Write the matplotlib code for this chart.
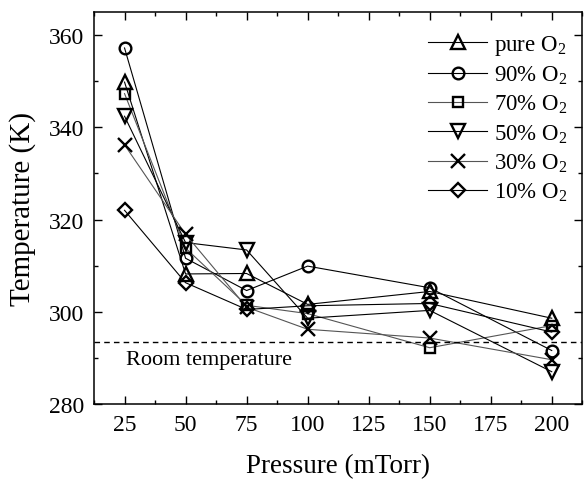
import matplotlib
matplotlib.use('Agg')
import matplotlib.pyplot as plt
from matplotlib.ticker import MultipleLocator

plt.rcParams['font.family'] = 'Liberation Serif'
plt.rcParams['mathtext.fontset'] = 'custom'
plt.rcParams['mathtext.rm'] = 'Liberation Serif'
plt.rcParams['mathtext.it'] = 'Liberation Serif:italic'

pressure = [25, 50, 75, 100, 150, 200]

pure_o2 = [349.8, 308.2, 308.3, 301.6, 304.4, 298.6]
o2_90 = [357.2, 311.6, 304.6, 309.9, 305.2, 291.6]
o2_70 = [347.3, 313.8, 301.4, 299.6, 292.2, 297.0]
o2_50 = [342.4, 315.0, 313.4, 298.6, 300.3, 287.0]
o2_30 = [336.2, 316.8, 301.0, 296.2, 294.3, 289.6]
o2_10 = [322.0, 306.3, 300.5, 301.3, 301.8, 295.6]

labels = ['pure O$_2$', '90% O$_2$', '70% O$_2$', '50% O$_2$', '30% O$_2$', '10% O$_2$']
room_temp = 293.5

fig = plt.figure(figsize=(5.84, 4.81), dpi=100)
ax = fig.add_axes([0.161, 0.158, 0.836, 0.815])

styles = [
    (pure_o2, '^', 10.5, 'black'),
    (o2_90, 'o', 8.4, 'black'),
    (o2_70, 's', 7.2, '#555555'),
    (o2_50, 'v', 9.8, 'black'),
    (o2_30, 'x', 10.5, '#555555'),
    (o2_10, 'D', 6.8, 'black'),
]

for (temps, mk, ms, lc), lab in zip(styles, labels):
    ax.plot(pressure, temps, color=lc, lw=0.8, marker=mk, ms=ms,
            mfc='none', mec='black', mew=1.7, label=lab)

ax.axhline(room_temp, color='black', ls=(0, (4, 3)), lw=1.0)
ax.text(25.7, 289.6, 'Room temperature', fontsize=16, va='center', ha='left')

ax.set_xlim(12.5, 212.5)
ax.set_ylim(280, 365)
ax.xaxis.set_major_locator(MultipleLocator(25))
ax.xaxis.set_minor_locator(MultipleLocator(12.5))
ax.yaxis.set_major_locator(MultipleLocator(20))
ax.yaxis.set_minor_locator(MultipleLocator(10))
ax.tick_params(which='both', direction='in', top=True, right=True, width=1.0)
ax.tick_params(which='major', length=6, labelsize=17, pad=7)
ax.tick_params(which='minor', length=3)
for sp in ax.spines.values():
    sp.set_linewidth(1.1)

ax.set_xlabel('Pressure (mTorr)', fontsize=19.5)
ax.set_ylabel('Temperature (K)', fontsize=21)
ax.xaxis.set_label_coords(0.5, -0.125)
ax.yaxis.set_label_coords(-0.118, 0.5)

ax.legend(loc='upper right', frameon=False, fontsize=16.5, handlelength=2.6,
          handletextpad=0.3, labelspacing=0.3, borderaxespad=0.3,
          bbox_to_anchor=(1.003, 0.987))

fig.savefig('out.png', dpi=100)
